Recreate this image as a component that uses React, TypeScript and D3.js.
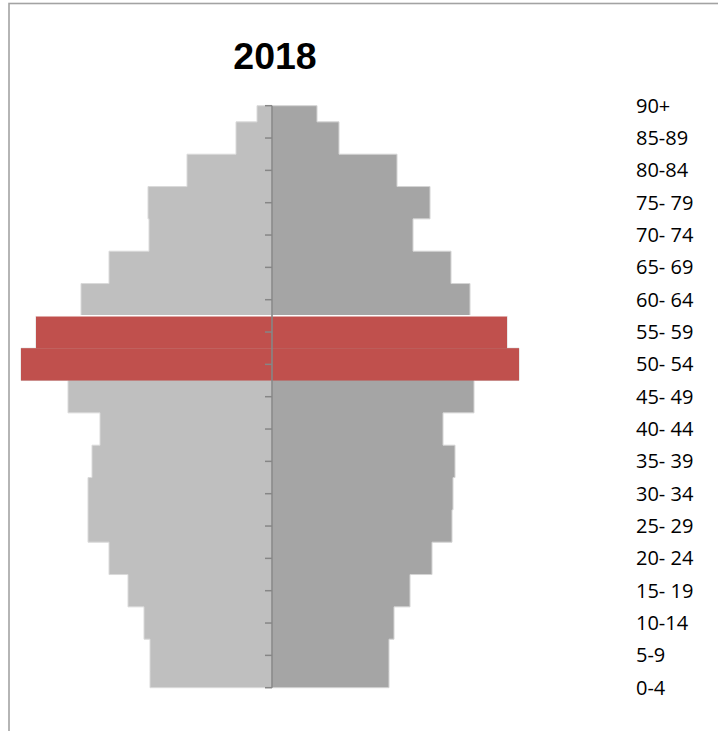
import React from "react";
import * as d3 from "d3";

const title = "2018";
const ageGroups = ["90+", "85-89", "80-84", "75- 79", "70- 74", "65- 69", "60- 64", "55- 59", "50- 54", "45- 49", "40- 44", "35- 39", "30- 34", "25- 29", "20- 24", "15- 19", "10-14", "5-9", "0-4"];
const leftValues = [1.5, 3.6, 8.5, 12.4, 12.3, 16.3, 19.1, 23.6, 25.1, 20.4, 17.2, 18.0, 18.4, 18.4, 16.3, 14.4, 12.8, 12.2, 12.2];
const rightValues = [4.5, 6.7, 12.5, 15.8, 14.1, 17.9, 19.8, 23.5, 24.7, 20.2, 17.1, 18.3, 18.1, 18.0, 16.0, 13.8, 12.2, 11.7, 11.7];
const highlighted = ["55- 59", "50- 54"];

const W = 718;
const H = 731;
const centerX = 272;
const topY = 105.7;
const bottomY = 687.7;

export default function App() {
  const y = d3.scalePoint<string>().domain(ageGroups).range([topY, bottomY]);
  const step = y.step();
  const xRight = d3.scaleLinear().domain([0, 10]).range([centerX, centerX + 100]);
  const xLeft = d3.scaleLinear().domain([0, 10]).range([centerX, centerX - 100]);

  const band = (g: string) => {
    const c = y(g)!;
    return [Math.max(topY, c - step / 2), Math.min(bottomY, c + step / 2)];
  };

  const buildPath = (vals: number[], sx: d3.ScaleLinear<number, number>) => {
    const pts: [number, number][] = [[sx(0), topY]];
    ageGroups.forEach((g, i) => {
      const [y0, y1] = band(g);
      pts.push([sx(vals[i]), y0]);
      pts.push([sx(vals[i]), y1]);
    });
    pts.push([sx(0), bottomY]);
    return d3.line()(pts) + "Z";
  };

  return (
    <svg width={W} height={H} style={{ position: "absolute", left: 0, top: 0 }}>
      <rect x={9} y={3.5} width={W + 20} height={H + 20} fill="#ffffff" stroke="#a3a3a3" strokeWidth={1.6} />
      <text x={275} y={69} textAnchor="middle" fontFamily="'Liberation Sans', Arial, sans-serif" fontWeight="bold" fontSize={37.5} fill="#000">
        {title}
      </text>
      <path d={buildPath(leftValues, xLeft)} fill="#bfbfbf" stroke="#dadada" strokeWidth={1} />
      <path d={buildPath(rightValues, xRight)} fill="#a5a5a5" stroke="#d4d4d4" strokeWidth={1} />
      {ageGroups.map((g, i) => {
        if (!highlighted.includes(g)) return null;
        const [y0, y1] = band(g);
        const x0 = xLeft(leftValues[i]);
        const x1 = xRight(rightValues[i]);
        return <rect key={g} x={x0} y={y0} width={x1 - x0} height={y1 - y0} fill="#c0504d" />;
      })}
      {(() => {
        const first = ageGroups.find((g) => highlighted.includes(g))!;
        const [y0] = band(first);
        const i = ageGroups.indexOf(first);
        return <line x1={xLeft(leftValues[i])} x2={xRight(rightValues[i])} y1={y0} y2={y0} stroke="#ffffff" strokeWidth={1.5} />;
      })()}
      <line x1={centerX} x2={centerX} y1={topY} y2={bottomY} stroke="#868686" strokeWidth={1.6} />
      {ageGroups.map((g) => (
        <line key={"t" + g} x1={centerX - 7} x2={centerX} y1={y(g)} y2={y(g)} stroke="#868686" strokeWidth={1.5} />
      ))}
      {ageGroups.map((g) => (
        <text key={"l" + g} x={636} y={y(g)! + 7} fontFamily="'Open Sans', sans-serif" fontSize={20} fill="#000">
          {g}
        </text>
      ))}
    </svg>
  );
}
